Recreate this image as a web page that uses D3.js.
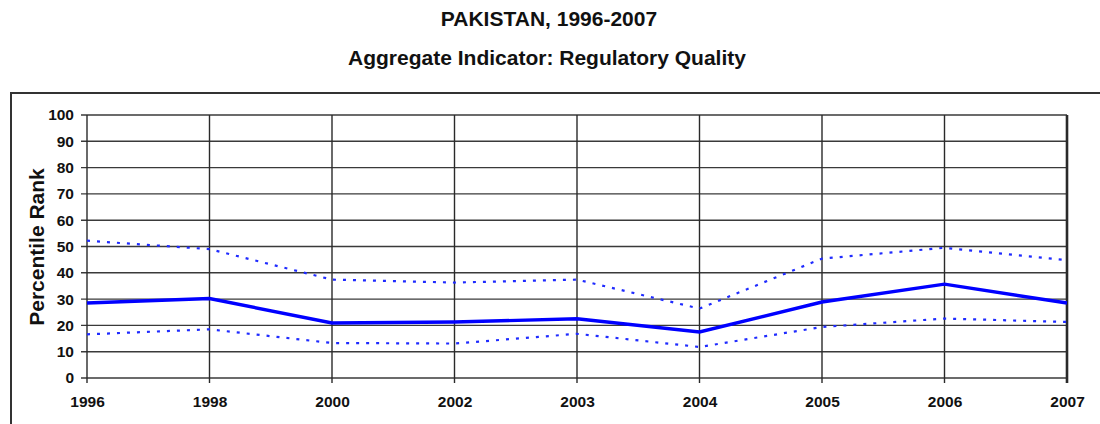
<!DOCTYPE html>
<html>
<head>
<meta charset="utf-8">
<script src="https://cdn.jsdelivr.net/npm/d3@7"></script>
<style>
  body { margin: 0; background: #fff; }
  text { font-family: "Liberation Sans", Arial, sans-serif; font-weight: bold; fill: #111; }
</style>
</head>
<body>
<div id="chart"></div>
<script>
const years = ["1996", "1998", "2000", "2002", "2003", "2004", "2005", "2006", "2007"];
const rank  = [28.5, 30.2, 20.9, 21.3, 22.5, 17.5, 28.9, 35.7, 28.5];
const upper = [52.2, 49.0, 37.4, 36.3, 37.4, 26.4, 45.4, 49.5, 44.8];
const lower = [16.6, 18.5, 13.3, 13.1, 16.8, 11.8, 19.4, 22.6, 21.3];
const yTicks = [0, 10, 20, 30, 40, 50, 60, 70, 80, 90, 100];

const [width, height] = [1100, 424];
const plot = { left: 87, right: 1067, top: 115, bottom: 378 };

const svg = d3.select("#chart").append("svg")
  .attr("width", width)
  .attr("height", height);

// titles
svg.append("text")
  .attr("x", 549).attr("y", 26)
  .attr("text-anchor", "middle")
  .style("font-size", "21px")
  .text("PAKISTAN, 1996-2007");

svg.append("text")
  .attr("x", 547).attr("y", 65)
  .attr("text-anchor", "middle")
  .style("font-size", "21px")
  .text("Aggregate Indicator: Regulatory Quality");

// outer frame, runs off the right and bottom edge
svg.append("rect")
  .attr("x", 11).attr("y", 93)
  .attr("width", 1200).attr("height", 400)
  .attr("fill", "none")
  .attr("stroke", "#333")
  .attr("stroke-width", 2);

const x = d3.scalePoint()
  .domain(years)
  .range([plot.left, plot.right]);

const y = d3.scaleLinear()
  .domain([0, 100])
  .range([plot.bottom, plot.top]);

// grid
svg.append("g")
  .selectAll("line")
  .data(yTicks)
  .enter().append("line")
  .attr("x1", plot.left - 6).attr("x2", plot.right)
  .attr("y1", d => y(d)).attr("y2", d => y(d))
  .attr("stroke", "#3a3a3a")
  .attr("stroke-width", 1.4);

svg.append("g")
  .selectAll("line")
  .data(years)
  .enter().append("line")
  .attr("x1", d => x(d)).attr("x2", d => x(d))
  .attr("y1", plot.top).attr("y2", plot.bottom + 5)
  .attr("stroke", "#2a2a2a")
  .attr("stroke-width", (d, i) => i == years.length - 1 ? 2.6 : 1.4);

// axes labels
const yAxis = d3.axisLeft(y).tickValues(yTicks).tickSize(0).tickPadding(13);
svg.append("g")
  .attr("transform", `translate(${plot.left},0)`)
  .call(yAxis)
  .call(g => g.select(".domain").remove())
  .selectAll("text")
  .style("font-size", "15.5px")
  .attr("fill", "#111");

const xAxis = d3.axisBottom(x).tickSize(0).tickPadding(18);
svg.append("g")
  .attr("transform", `translate(0,${plot.bottom})`)
  .call(xAxis)
  .call(g => g.select(".domain").remove())
  .selectAll("text")
  .style("font-size", "15.5px")
  .attr("fill", "#111");

svg.append("text")
  .attr("transform", `translate(44,247) rotate(-90)`)
  .attr("text-anchor", "middle")
  .style("font-size", "21px")
  .text("Percentile Rank");

// series
const line = d3.line()
  .x((d, i) => x(years[i]))
  .y(d => y(d));

svg.append("path")
  .datum(upper)
  .attr("d", line)
  .attr("fill", "none")
  .attr("stroke", "#1f2bff")
  .attr("stroke-width", 2.2)
  .attr("stroke-dasharray", "3,7");

svg.append("path")
  .datum(lower)
  .attr("d", line)
  .attr("fill", "none")
  .attr("stroke", "#1f2bff")
  .attr("stroke-width", 2.2)
  .attr("stroke-dasharray", "3,7");

svg.append("path")
  .datum(rank)
  .attr("d", line)
  .attr("fill", "none")
  .attr("stroke", "#0000ff")
  .attr("stroke-width", 3.4);
</script>
</body>
</html>
